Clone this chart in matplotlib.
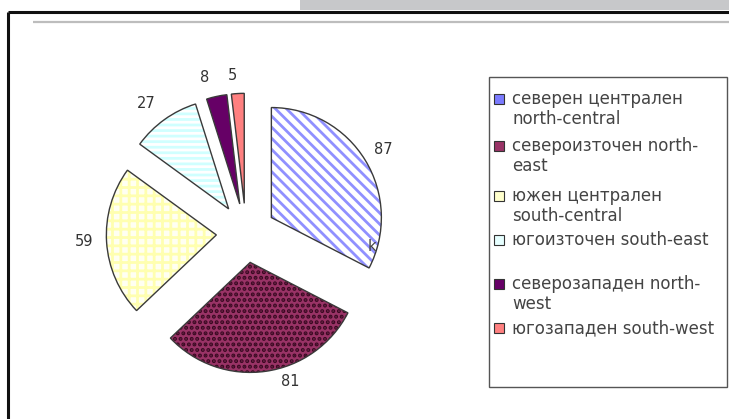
import matplotlib
matplotlib.use("Agg")
import matplotlib.pyplot as plt
from matplotlib.patches import Rectangle

# Regional counts
regions_bg = ["северен централен", "североизточен north-", "южен централен",
              "югоизточен south-east", "северозападен north-", "югозападен south-west"]
regions_second = ["north-central", "east", "south-central", "", "west", ""]
values = [87, 81, 59, 27, 8, 5]
face_colors = ["#ffffff", "#993366", "#fffff2", "#ffffff", "#660066", "#ff8080"]
hatch_colors = ["#9090ff", "#3a0a22", "#ffffb0", "#d0ffff", "#660066", "#ff8080"]
hatches = ["\\\\\\", "...", "++", "---", "", ""]
swatch_colors = ["#7b7bff", "#993366", "#ffffcc", "#e6ffff", "#660066", "#ff8080"]

W, H = 729, 419
plt.rcParams["hatch.linewidth"] = 2.0
plt.rcParams["font.family"] = ["DejaVu Sans"]

fig = plt.figure(figsize=(W / 100, H / 100), dpi=100)
ax = fig.add_axes([0, 0, 1, 1])


def Y(y):
    return H - y


cx, cy, r = 246, Y(233), 110
explode = [0.27 * r] * len(values)

# filled wedges with hatch patterns
wedges, _ = ax.pie(values, explode=explode, startangle=90, counterclock=False,
                   center=(cx, cy), radius=r)
for w, fc, hc, hp in zip(wedges, face_colors, hatch_colors, hatches):
    w.set_facecolor(fc)
    w.set_edgecolor(hc)
    w.set_linewidth(0)
    w.set_hatch(hp)

# wedge outlines
outl, _ = ax.pie(values, explode=explode, startangle=90, counterclock=False,
                 center=(cx, cy), radius=r,
                 wedgeprops=dict(fill=False, edgecolor="#3a3a3a", linewidth=1.0))

# value labels
label_pos = [(383, 150), (290, 381), (84, 241), (146, 104), (205, 77), (232, 76)]
for (lx, ly), v in zip(label_pos, values):
    ax.text(lx, Y(ly), str(v), ha="center", va="center", fontsize=10.5, color="#333333")
ax.text(372, Y(246), "k", ha="center", va="center", fontsize=10.5, color="#444444")

# page decorations
ax.add_patch(Rectangle((300, Y(10)), W - 300, 10, facecolor="#c7c8ca", edgecolor="none"))
ax.plot([8, W], [Y(12), Y(12)], color="#111111", lw=2.2, solid_capstyle="butt")
ax.plot([8, 8], [Y(12), 0], color="#111111", lw=2.2, solid_capstyle="butt")
ax.plot([33, W], [Y(22), Y(22)], color="#bdbdbd", lw=1.6, solid_capstyle="butt")

# legend box
ax.add_patch(Rectangle((489, Y(387)), 238, 310, facecolor="white",
                       edgecolor="#555555", lw=1.0))
rows = [99, 146, 196, 240, 284, 328]
for yy, l1, l2, sc in zip(rows, regions_bg, regions_second, swatch_colors):
    ax.add_patch(Rectangle((494, Y(yy) - 5), 10, 10, facecolor=sc,
                           edgecolor="#333333", lw=0.8))
    ax.text(512, Y(yy), l1, ha="left", va="center", fontsize=12, color="#444444")
    if l2:
        ax.text(512, Y(yy + 20), l2, ha="left", va="center", fontsize=12,
                color="#444444")

ax.set_xlim(0, W)
ax.set_ylim(0, H)
ax.set_aspect("auto")
ax.axis("off")
fig.savefig("out.png", dpi=100)
